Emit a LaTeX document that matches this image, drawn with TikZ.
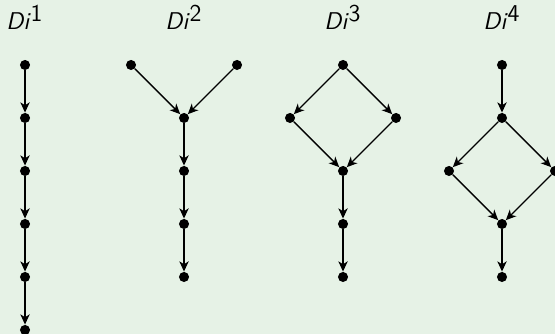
\documentclass[tikz,border=0pt]{standalone}
\usetikzlibrary{arrows.meta}
\definecolor{bggreen}{RGB}{230,242,230}
\begin{document}
\begin{tikzpicture}[
    dot/.style={circle, fill=black, inner sep=0pt, minimum size=0.19cm},
    arc/.style={-{Stealth[length=5.5pt, width=5pt, inset=1.6pt]}, line width=0.75pt},
    title/.style={anchor=base, font=\fontsize{13}{15}\selectfont\sffamily}
]

% Hintergrund
\fill[bggreen] (-0.472,-5.075) rectangle (10,1.226);
\useasboundingbox (-0.472,-5.075) rectangle (10,1.226);

% Titel
\node[title] (t1) at (0,0.66) {\textsl{Di}$^{\textsf{1}}$};
\node[title] (t2) at (3,0.66) {\textsl{Di}$^{\textsf{2}}$};
\node[title] (t3) at (6,0.66) {\textsl{Di}$^{\textsf{3}}$};
\node[title] (t4) at (9,0.66) {\textsl{Di}$^{\textsf{4}}$};

% Di^1: Kette
\foreach \i in {0,...,5} {
    \node[dot] (a\i) at (0,-\i) {};
}
\foreach \i [evaluate=\i as \j using int(\i+1)] in {0,...,4} {
    \draw[arc] (a\i) -- (a\j);
}

% Di^2: zwei Quellen
\node[dot] (bl) at (2,0)  {};
\node[dot] (br) at (4,0)  {};
\node[dot] (b1) at (3,-1) {};
\node[dot] (b2) at (3,-2) {};
\node[dot] (b3) at (3,-3) {};
\node[dot] (b4) at (3,-4) {};
\draw[arc] (bl) -- (b1);
\draw[arc] (br) -- (b1);
\draw[arc] (b1) -- (b2);
\draw[arc] (b2) -- (b3);
\draw[arc] (b3) -- (b4);

% Di^3: Raute oben
\node[dot] (c0) at (6,0)  {};
\node[dot] (cl) at (5,-1) {};
\node[dot] (cr) at (7,-1) {};
\node[dot] (c2) at (6,-2) {};
\node[dot] (c3) at (6,-3) {};
\node[dot] (c4) at (6,-4) {};
\draw[arc] (c0) -- (cl);
\draw[arc] (c0) -- (cr);
\draw[arc] (cl) -- (c2);
\draw[arc] (cr) -- (c2);
\draw[arc] (c2) -- (c3);
\draw[arc] (c3) -- (c4);

% Di^4: Raute in der Mitte
\node[dot] (d0) at (9,0)   {};
\node[dot] (d1) at (9,-1)  {};
\node[dot] (dl) at (8,-2)  {};
\node[dot] (dr) at (10,-2) {};
\node[dot] (d3) at (9,-3)  {};
\node[dot] (d4) at (9,-4)  {};
\draw[arc] (d0) -- (d1);
\draw[arc] (d1) -- (dl);
\draw[arc] (d1) -- (dr);
\draw[arc] (dl) -- (d3);
\draw[arc] (dr) -- (d3);
\draw[arc] (d3) -- (d4);

\end{tikzpicture}
\end{document}
